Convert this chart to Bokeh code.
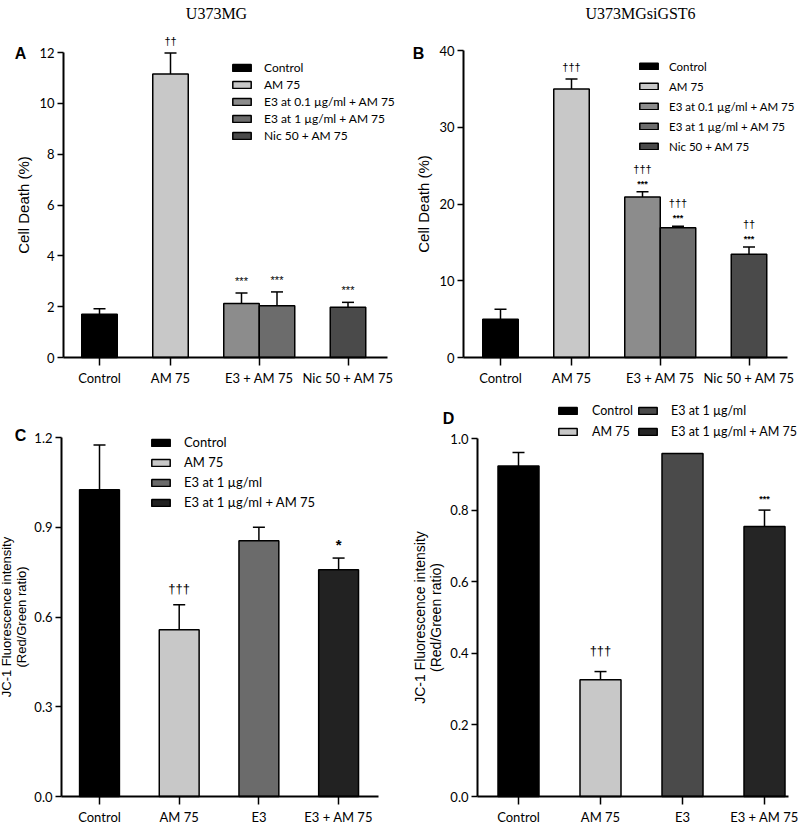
from bokeh.plotting import figure
from bokeh.models import (Range1d, FixedTicker, Legend, LegendItem, Label, LabelSet,
                          Whisker, TeeHead, ColumnDataSource, NumeralTickFormatter)
from bokeh.layouts import column, row
from bokeh.embed import file_html
from bokeh.resources import INLINE
from bokeh.core.properties import value

# ---------------- data ----------------
# Panel A (U373MG)
a_ticks = ["Control", "AM 75", "E3 + AM 75", "Nic 50 + AM 75"]
a_series = ["Control", "AM 75", "E3 at 0.1 µg/ml + AM 75", "E3 at 1 µg/ml + AM 75", "Nic 50 + AM 75"]
a_values = [1.70, 11.15, 2.12, 2.04, 1.98]
a_errors = [0.22, 0.83, 0.42, 0.54, 0.19]
a_marks = ["", "††", "***", "***", "***"]

# Panel B (U373MGsiGST6)
b_ticks = ["Control", "AM 75", "E3 + AM 75", "Nic 50 + AM 75"]
b_series = ["Control", "AM 75", "E3 at 0.1 µg/ml + AM 75", "E3 at 1 µg/ml + AM 75", "Nic 50 + AM 75"]
b_values = [5.0, 35.0, 20.9, 16.9, 13.45]
b_errors = [1.3, 1.3, 0.7, 0.2, 0.95]
b_marks_dag = ["", "†††", "†††", "†††", "††"]
b_marks_star = ["", "", "***", "***", "***"]

# Panel C
c_ticks = ["Control", "AM 75", "E3", "E3 + AM 75"]
c_series = ["Control", "AM 75", "E3 at 1 µg/ml", "E3 at 1 µg/ml + AM 75"]
c_values = [1.025, 0.557, 0.855, 0.758]
c_errors = [0.15, 0.084, 0.045, 0.039]
c_marks = ["", "†††", "", "*"]

# Panel D
d_ticks = ["Control", "AM 75", "E3", "E3 + AM 75"]
d_series = ["Control", "AM 75", "E3 at 1 µg/ml", "E3 at 1 µg/ml + AM 75"]
d_values = [0.923, 0.326, 0.958, 0.754]
d_errors = [0.038, 0.023, None, 0.046]
d_marks = ["", "†††", "", "***"]

# ---------------- styling ----------------
NARROW = "Lato"
SANS = "Liberation Sans"
SERIF = "Liberation Serif"
COL5 = ["#000000", "#c8c8c8", "#8c8c8c", "#6c6c6c", "#4a4a4a"]
COL_C = ["#000000", "#c8c8c8", "#6b6b6b", "#222222"]
COL_D = ["#000000", "#c8c8c8", "#4a4a4a", "#252525"]

# layout: bar positions (x units)
POS5 = [0.0, 1.0, 2.0, 2.5, 3.5]
TICK5 = [0.0, 1.0, 2.25, 3.5]
POS4 = [0.0, 1.0, 2.0, 3.0]


class Panel:
    """A figure whose frame fills the whole canvas; pixel layout -> data mapping."""

    def __init__(self, fx, fy, w, h, x0, ux, y0, uy):
        self.fx, self.fy, self.w, self.h = fx, fy, w, h
        self.x0, self.ux, self.y0, self.uy = x0, ux, y0, uy
        self.p = figure(width=w, height=h, output_backend="svg", toolbar_location=None,
                        x_range=Range1d(self.X(fx), self.X(fx + w)),
                        y_range=Range1d(self.Y(fy + h), self.Y(fy)),
                        min_border=0, min_border_left=0, min_border_right=0,
                        min_border_top=0, min_border_bottom=0)
        self.p.grid.visible = False
        self.p.outline_line_color = None

    def X(self, px):
        return (px - self.x0) / self.ux

    def Y(self, py):
        return (self.y0 - py) / self.uy


def style_axes(pn, axis_px, right_px, ymax, yticks, ylabel, xticks, xlabels, yfmt=None,
               ylab_size="15px", ystand=3, lab_stand=4):
    p = pn.p
    for ax in (p.xaxis[0], p.yaxis[0]):
        ax.axis_line_width = 2
        ax.axis_line_color = "black"
        ax.major_tick_line_width = 1.5
        ax.major_tick_line_color = "black"
        ax.major_tick_in = 0
        ax.minor_tick_in = 0
        ax.minor_tick_out = 0
        ax.minor_tick_line_color = None
        ax.major_label_text_font = NARROW
        ax.major_label_text_color = "black"
    p.yaxis.fixed_location = pn.X(axis_px)
    p.yaxis.bounds = (0, ymax)
    p.xaxis.fixed_location = 0
    p.xaxis.bounds = (pn.X(axis_px), pn.X(right_px))
    p.yaxis.major_label_text_font_size = "13px"
    p.xaxis.major_label_text_font_size = "13px"
    p.yaxis.major_tick_out = 6
    p.yaxis.major_label_standoff = ystand
    p.xaxis.major_tick_out = 8
    p.xaxis.major_label_standoff = 4
    p.yaxis.ticker = FixedTicker(ticks=yticks)
    if yfmt:
        p.yaxis.formatter = NumeralTickFormatter(format=yfmt)
    p.xaxis.ticker = FixedTicker(ticks=xticks)
    p.xaxis.major_label_overrides = {t: s for t, s in zip(xticks, xlabels)}
    p.yaxis.axis_label = ylabel
    p.yaxis.axis_label_text_font = SANS
    p.yaxis.axis_label_text_font_style = "normal"
    p.yaxis.axis_label_text_font_size = ylab_size
    p.yaxis.axis_label_text_line_height = 1.0
    p.yaxis.axis_label_standoff = lab_stand
    p.yaxis.axis_label_text_color = "black"


def add_bars(p, pos, vals, errs, names, colors, width=0.5):
    items = []
    for x, v, name, c in zip(pos, vals, names, colors):
        src = ColumnDataSource(dict(x=[x], top=[v]))
        r = p.vbar(x="x", top="top", width=width, bottom=0, source=src,
                   fill_color=c, line_color="black", line_width=1.5)
        items.append(LegendItem(label=name, renderers=[r]))
    xs, lo, up = [], [], []
    for x, v, e in zip(pos, vals, errs):
        if e is None:
            continue
        xs.append(x); lo.append(v); up.append(v + e)
    wsrc = ColumnDataSource(dict(x=xs, lower=lo, upper=up))
    w = Whisker(base="x", lower="lower", upper="upper", source=wsrc, dimension="height",
                upper_head=TeeHead(size=12, line_width=1.5, line_color="black"),
                lower_head=None, line_width=1.5, line_color="black", level="overlay")
    p.add_layout(w)
    return items


def add_marks(p, pos, vals, errs, marks, offset, size, bold=False):
    xs, ys, ts = [], [], []
    for x, v, e, m in zip(pos, vals, errs, marks):
        if not m:
            continue
        xs.append(x); ys.append(v + (e or 0)); ts.append(m)
    src = ColumnDataSource(dict(x=xs, y=ys, t=ts))
    ls = LabelSet(x="x", y="y", text="t", source=src, y_offset=offset,
                  text_align="center", text_baseline="middle",
                  text_font=value(SANS), text_font_size=value(size),
                  text_font_style=value("bold" if bold else "normal"),
                  text_color=value("black"))
    p.add_layout(ls)


def add_legend(pn, items, left_px, top_px, row_h, glyph_h=9, standoff=12, size="13px"):
    n = len(items)
    bottom_px = top_px + n * row_h
    lg = Legend(items=items, location=(left_px - pn.fx, pn.fy + pn.h - bottom_px),
                orientation="vertical",
                label_text_font=NARROW, label_text_font_size=size, label_text_color="black",
                glyph_width=23, glyph_height=glyph_h, label_height=row_h, label_standoff=standoff,
                spacing=0, padding=0, margin=0,
                border_line_color=None, background_fill_alpha=0)
    pn.p.add_layout(lg)


def add_text(pn, px, py, text, font, size, style="normal"):
    pn.p.add_layout(Label(x=pn.X(px), y=pn.Y(py), text=text,
                          text_font=font, text_font_size=size, text_font_style=style,
                          text_align="center", text_baseline="middle", text_color="black"))


# ---------------- Panel A ----------------
A = Panel(0, 0, 400, 400, 99, 71, 357, 305 / 12)
style_axes(A, 63, 387, 12, [0, 2, 4, 6, 8, 10, 12], "Cell Death (%)", TICK5, a_ticks)
itA = add_bars(A.p, POS5, a_values, a_errors, a_series, COL5)
add_marks(A.p, POS5, a_values, a_errors, a_marks, 12, "11px")
add_legend(A, itA, 230, 59, 17, glyph_h=9, standoff=11, size="12px")
add_text(A, 216, 13, "U373MG", SERIF, "16px")
add_text(A, 20, 53, "A", SANS, "16px", "bold")

# ---------------- Panel B ----------------
B = Panel(400, 0, 400, 400, 500, 71, 357, 307 / 40)
style_axes(B, 463, 787, 40, [0, 10, 20, 30, 40], "Cell Death (%)", TICK5, b_ticks)
itB = add_bars(B.p, POS5, b_values, b_errors, b_series, COL5)
sel = [bool(s) for s in b_marks_star]
add_marks(B.p, POS5, b_values, b_errors, b_marks_star, 8, "9px", bold=True)
add_marks(B.p, [x for x, s in zip(POS5, sel) if s], [v for v, s in zip(b_values, sel) if s],
          [e for e, s in zip(b_errors, sel) if s], [d for d, s in zip(b_marks_dag, sel) if s],
          23, "11px")
add_marks(B.p, [x for x, s in zip(POS5, sel) if not s], [v for v, s in zip(b_values, sel) if not s],
          [e for e, s in zip(b_errors, sel) if not s], [d for d, s in zip(b_marks_dag, sel) if not s],
          12, "11px")
add_legend(B, itB, 637, 56, 20, glyph_h=8, standoff=9, size="11.5px")
add_text(B, 640, 13, "U373MGsiGST6", SERIF, "16px")
add_text(B, 418, 53, "B", SANS, "16px", "bold")

# ---------------- Panel C ----------------
C = Panel(0, 400, 400, 430, 99, 79.7, 796, 359 / 1.2)
style_axes(C, 61, 378, 1.2, [0, 0.3, 0.6, 0.9, 1.2],
           "JC-1 Fluorescence intensity\n(Red/Green ratio)", POS4, c_ticks, "0.0", "13px", 3, 2)
itC = add_bars(C.p, POS4, c_values, c_errors, c_series, COL_C)
add_marks(C.p, POS4[:2], c_values[:2], c_errors[:2], c_marks[:2], 16, "13px")
add_marks(C.p, POS4[2:], c_values[2:], c_errors[2:], c_marks[2:], 14, "15px", bold=True)
add_legend(C, itC, 149, 432, 20, glyph_h=9, standoff=12)
add_text(C, 20, 435, "C", SANS, "16px", "bold")

# ---------------- Panel D ----------------
D = Panel(400, 400, 400, 430, 518, 82, 796, 358 / 1.0)
style_axes(D, 477, 788, 1.0, [0, 0.2, 0.4, 0.6, 0.8, 1.0],
           "JC-1 Fluorescence intensity\n(Red/Green ratio)", POS4, d_ticks, "0.0", "14px", 3, 3)
itD = add_bars(D.p, POS4, d_values, d_errors, d_series, COL_D)
add_marks(D.p, POS4[:2], d_values[:2], d_errors[:2], d_marks[:2], 21, "13px")
add_marks(D.p, POS4[2:], d_values[2:], d_errors[2:], d_marks[2:], 11, "9px", bold=True)
add_legend(D, itD[:2], 556, 400, 21, glyph_h=9, standoff=13, size="12.5px")
add_legend(D, itD[2:], 636, 400, 21, glyph_h=9, standoff=12, size="12.5px")
add_text(D, 448, 418, "D", SANS, "16px", "bold")

layout = column(row(A.p, B.p), row(C.p, D.p))
open("out.html", "w").write(file_html(layout, INLINE))
